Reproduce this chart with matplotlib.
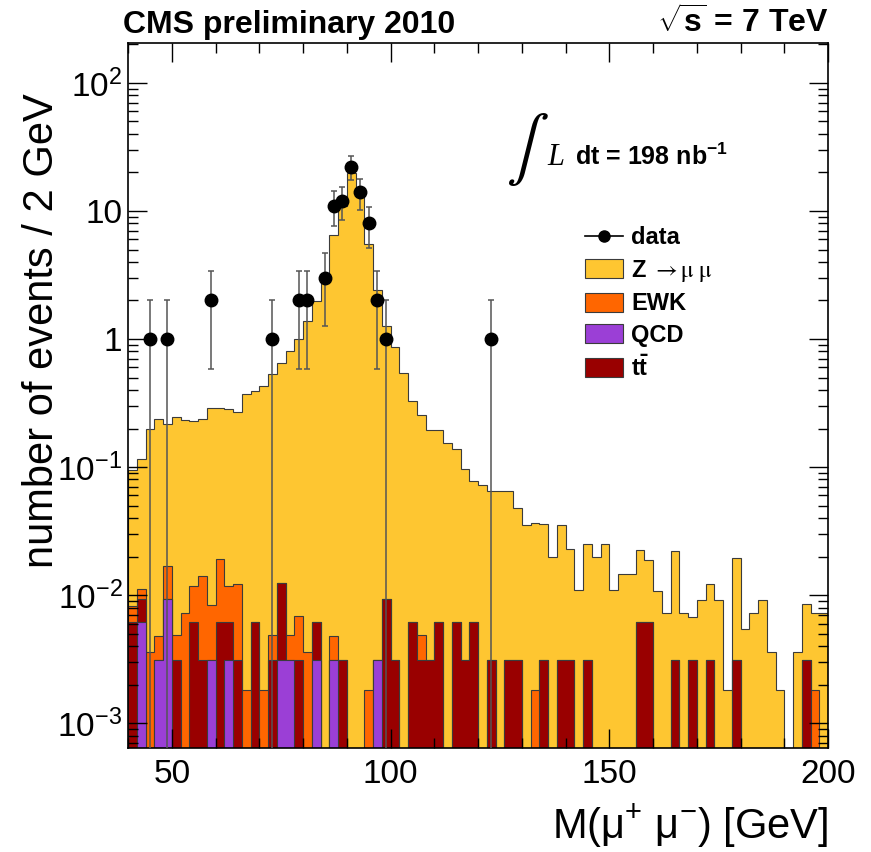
import numpy as np
import matplotlib
matplotlib.use("Agg")
import matplotlib.pyplot as plt
from matplotlib.patches import Patch
from matplotlib.lines import Line2D
from matplotlib.ticker import MultipleLocator, LogLocator, FuncFormatter, NullFormatter

plt.rcParams["font.family"] = ["Liberation Sans", "DejaVu Sans"]
plt.rcParams["mathtext.fontset"] = "custom"
plt.rcParams["mathtext.rm"] = "Liberation Sans"
plt.rcParams["mathtext.it"] = "Liberation Sans:italic"
plt.rcParams["mathtext.bf"] = "Liberation Sans:bold"

# 2 GeV bins from 40 to 200 GeV
edges = np.arange(40, 202, 2)

# Z -> mu mu simulation (events / bin)
zmumu = [
    0.087, 0.105, 0.196, 0.233, 0.201, 0.240, 0.227, 0.218, 0.224, 0.282,
    0.269, 0.273, 0.258, 0.368, 0.384, 0.428, 0.525, 0.638, 0.795, 0.993,
    1.37, 1.99, 3.0, 6.5, 11.0, 19.9, 13.4, 5.5, 2.4, 1.25,
    0.857, 0.54, 0.324, 0.251, 0.192, 0.189, 0.154, 0.131, 0.094, 0.072,
    0.073, 0.062, 0.065, 0.062, 0.045, 0.035, 0.035, 0.033, 0.020, 0.032,
    0.020, 0.011, 0.022, 0.020, 0.025, 0.011, 0.0145, 0.0145, 0.0164, 0.0125,
    0.0107, 0.0073, 0.0189, 0.0073, 0.0036, 0.0091, 0.0091, 0.0091, 0.0018, 0.0163,
    0.0054, 0.0073, 0.0091, 0.0036, 0.0018, 0.0, 0.0036, 0.0054, 0.0055, 0.0073,
]

# EWK background
ewk = [
    0.0020, 0.0019, 0.0036, 0.0017, 0.0075, 0.0018, 0.0073, 0.0055, 0.0110, 0.0053,
    0.0130, 0.0055, 0.0091, 0.0018, 0, 0.0018, 0.0018, 0, 0.0018, 0.0038,
    0.0036, 0, 0, 0.0017, 0, 0, 0, 0.0018, 0, 0,
    0, 0, 0, 0.0018, 0, 0, 0, 0, 0, 0,
    0, 0, 0, 0, 0, 0, 0.0018, 0, 0, 0,
    0, 0, 0, 0, 0, 0, 0, 0, 0, 0,
    0, 0, 0, 0, 0, 0, 0, 0, 0, 0,
    0, 0, 0, 0, 0, 0, 0, 0, 0.0018, 0,
]

# QCD background
qcd = [
    0, 0.0062, 0, 0.0031, 0.0093, 0, 0, 0, 0, 0.0031,
    0, 0.0031, 0, 0, 0, 0, 0, 0.0031, 0.0031, 0,
    0, 0.0031, 0, 0.0031, 0, 0, 0, 0, 0.0031, 0,
    0, 0, 0, 0, 0, 0, 0, 0, 0, 0,
    0, 0, 0, 0, 0, 0, 0, 0, 0, 0,
    0, 0, 0, 0, 0, 0, 0, 0, 0, 0,
    0, 0, 0, 0, 0, 0, 0, 0, 0, 0,
    0, 0, 0, 0, 0, 0, 0, 0, 0, 0,
]

# ttbar background
ttbar = [
    0.0062, 0.0031, 0, 0, 0, 0.0031, 0, 0.0062, 0.0031, 0,
    0.0062, 0.0031, 0.0031, 0, 0.0062, 0, 0.0031, 0.0093, 0, 0.0031,
    0, 0.0031, 0, 0, 0.0031, 0, 0, 0, 0, 0.0093,
    0.0031, 0, 0.0062, 0.0031, 0.0031, 0.0062, 0, 0.0062, 0.0031, 0.0062,
    0, 0.0031, 0, 0.0031, 0.0031, 0, 0, 0.0031, 0, 0.0031,
    0.0031, 0, 0.0031, 0, 0, 0, 0, 0, 0.0062, 0.0062,
    0, 0, 0.0031, 0, 0.0031, 0, 0.0031, 0, 0, 0.0031,
    0, 0, 0, 0, 0, 0, 0, 0.0031, 0, 0,
]

# data
data_mass = [45, 49, 59, 73, 79, 81, 85, 87, 89, 91, 93, 95, 97, 99, 123]
data_counts = [1, 1, 2, 1, 2, 2, 3, 11, 12, 22, 14, 8, 2, 1, 1]

c_z = "#fec631"
c_ewk = "#ff6600"
c_qcd = "#9b3fd6"
c_tt = "#990000"
c_edge = "#3b3b3b"

fig = plt.figure(figsize=(8.71, 8.52), dpi=100)
ax = fig.add_axes([128 / 871, 1 - 748 / 852, 700 / 871, 705 / 852])

# stack: QCD at the bottom, then ttbar, EWK, Z
lvl_qcd = np.array(qcd)
lvl_tt = lvl_qcd + np.array(ttbar)
lvl_ewk = lvl_tt + np.array(ewk)
lvl_z = lvl_ewk + np.array(zmumu)

for lvl, col in [(lvl_z, c_z), (lvl_ewk, c_ewk), (lvl_tt, c_tt), (lvl_qcd, c_qcd)]:
    ax.stairs(lvl, edges, baseline=1e-6, fill=True, facecolor=col,
              edgecolor=c_edge, linewidth=0.8)

counts = np.array(data_counts, dtype=float)
ax.errorbar(data_mass, counts, yerr=np.sqrt(counts), fmt="o", color="black",
            markersize=9, ecolor="#555555", elinewidth=1.1, capsize=2.5,
            capthick=1.1, zorder=5)

ax.set_yscale("log")
ax.set_xlim(40, 200)
ax.set_ylim(6.4e-4, 205)

ax.xaxis.set_major_locator(MultipleLocator(50))
ax.xaxis.set_minor_locator(MultipleLocator(10))
ax.yaxis.set_major_locator(LogLocator(base=10))
ax.yaxis.set_minor_locator(LogLocator(base=10, subs=np.arange(2, 10)))
ax.yaxis.set_minor_formatter(NullFormatter())


def yfmt(v, pos):
    e = int(round(np.log10(v)))
    if e == 0:
        return "1"
    if e == 1:
        return "10"
    return r"$\mathregular{10^{%d}}$" % e


ax.yaxis.set_major_formatter(FuncFormatter(yfmt))
ax.tick_params(which="both", direction="in", top=True, right=True, width=1.0)
ax.tick_params(which="major", length=14, labelsize=24)
ax.tick_params(which="minor", length=7)
ax.tick_params(axis="x", which="major", pad=8)
ax.tick_params(axis="y", which="major", pad=4)
for sp in ax.spines.values():
    sp.set_linewidth(1.2)

# legend
handles = [
    Line2D([], [], color="black", marker="o", markersize=8, linewidth=1.2),
    Patch(facecolor=c_z, edgecolor=c_edge, linewidth=0.8),
    Patch(facecolor=c_ewk, edgecolor=c_edge, linewidth=0.8),
    Patch(facecolor=c_qcd, edgecolor=c_edge, linewidth=0.8),
    Patch(facecolor=c_tt, edgecolor=c_edge, linewidth=0.8),
]
labels = ["data", r"Z $\mathrm{\rightarrow\mu\ \mu}$", "EWK", "QCD", r"$\mathbf{t\bar{t}}$"]
leg = ax.legend(handles, labels, loc="upper left", bbox_to_anchor=(0.653, 0.740),
                frameon=False, prop={"weight": "bold", "size": 17},
                handlelength=1.6, handleheight=0.85, handletextpad=0.35,
                labelspacing=0.36, borderpad=0, borderaxespad=0)
leg.get_texts()[1].set_math_fontfamily("stix")

# texts
fig.text(123 / 871, 1 - 33 / 852, "CMS preliminary 2010", fontsize=23,
         fontweight="bold", ha="left", va="baseline")
fig.text(828 / 871, 1 - 33 / 852, r"$\sqrt{\mathbf{s}}$ = 7 TeV", fontsize=23,
         fontweight="bold", ha="right", va="baseline")
fig.text(527 / 871, 1 - 150 / 852, r"$\int$", math_fontfamily="stix",
         fontsize=46, ha="center", va="center")
fig.text(547 / 871, 1 - 165 / 852, "L", family="Liberation Serif",
         style="italic", fontsize=22, va="baseline")
fig.text(575 / 871, 1 - 165 / 852, r"dt = 198 nb$^{\mathbf{-1}}$", fontsize=18,
         fontweight="bold", va="baseline")

fig.text(42 / 871, 1 - 93 / 852, "number of events / 2 GeV", rotation=90,
         fontsize=30, ha="center", va="top")
fig.text(828 / 871, 1 - 826 / 852, r"M($\mathregular{\mu^{+}\ \mu^{-}}$) [GeV]",
         fontsize=30, ha="right", va="center")

fig.savefig("out.png", dpi=100)
